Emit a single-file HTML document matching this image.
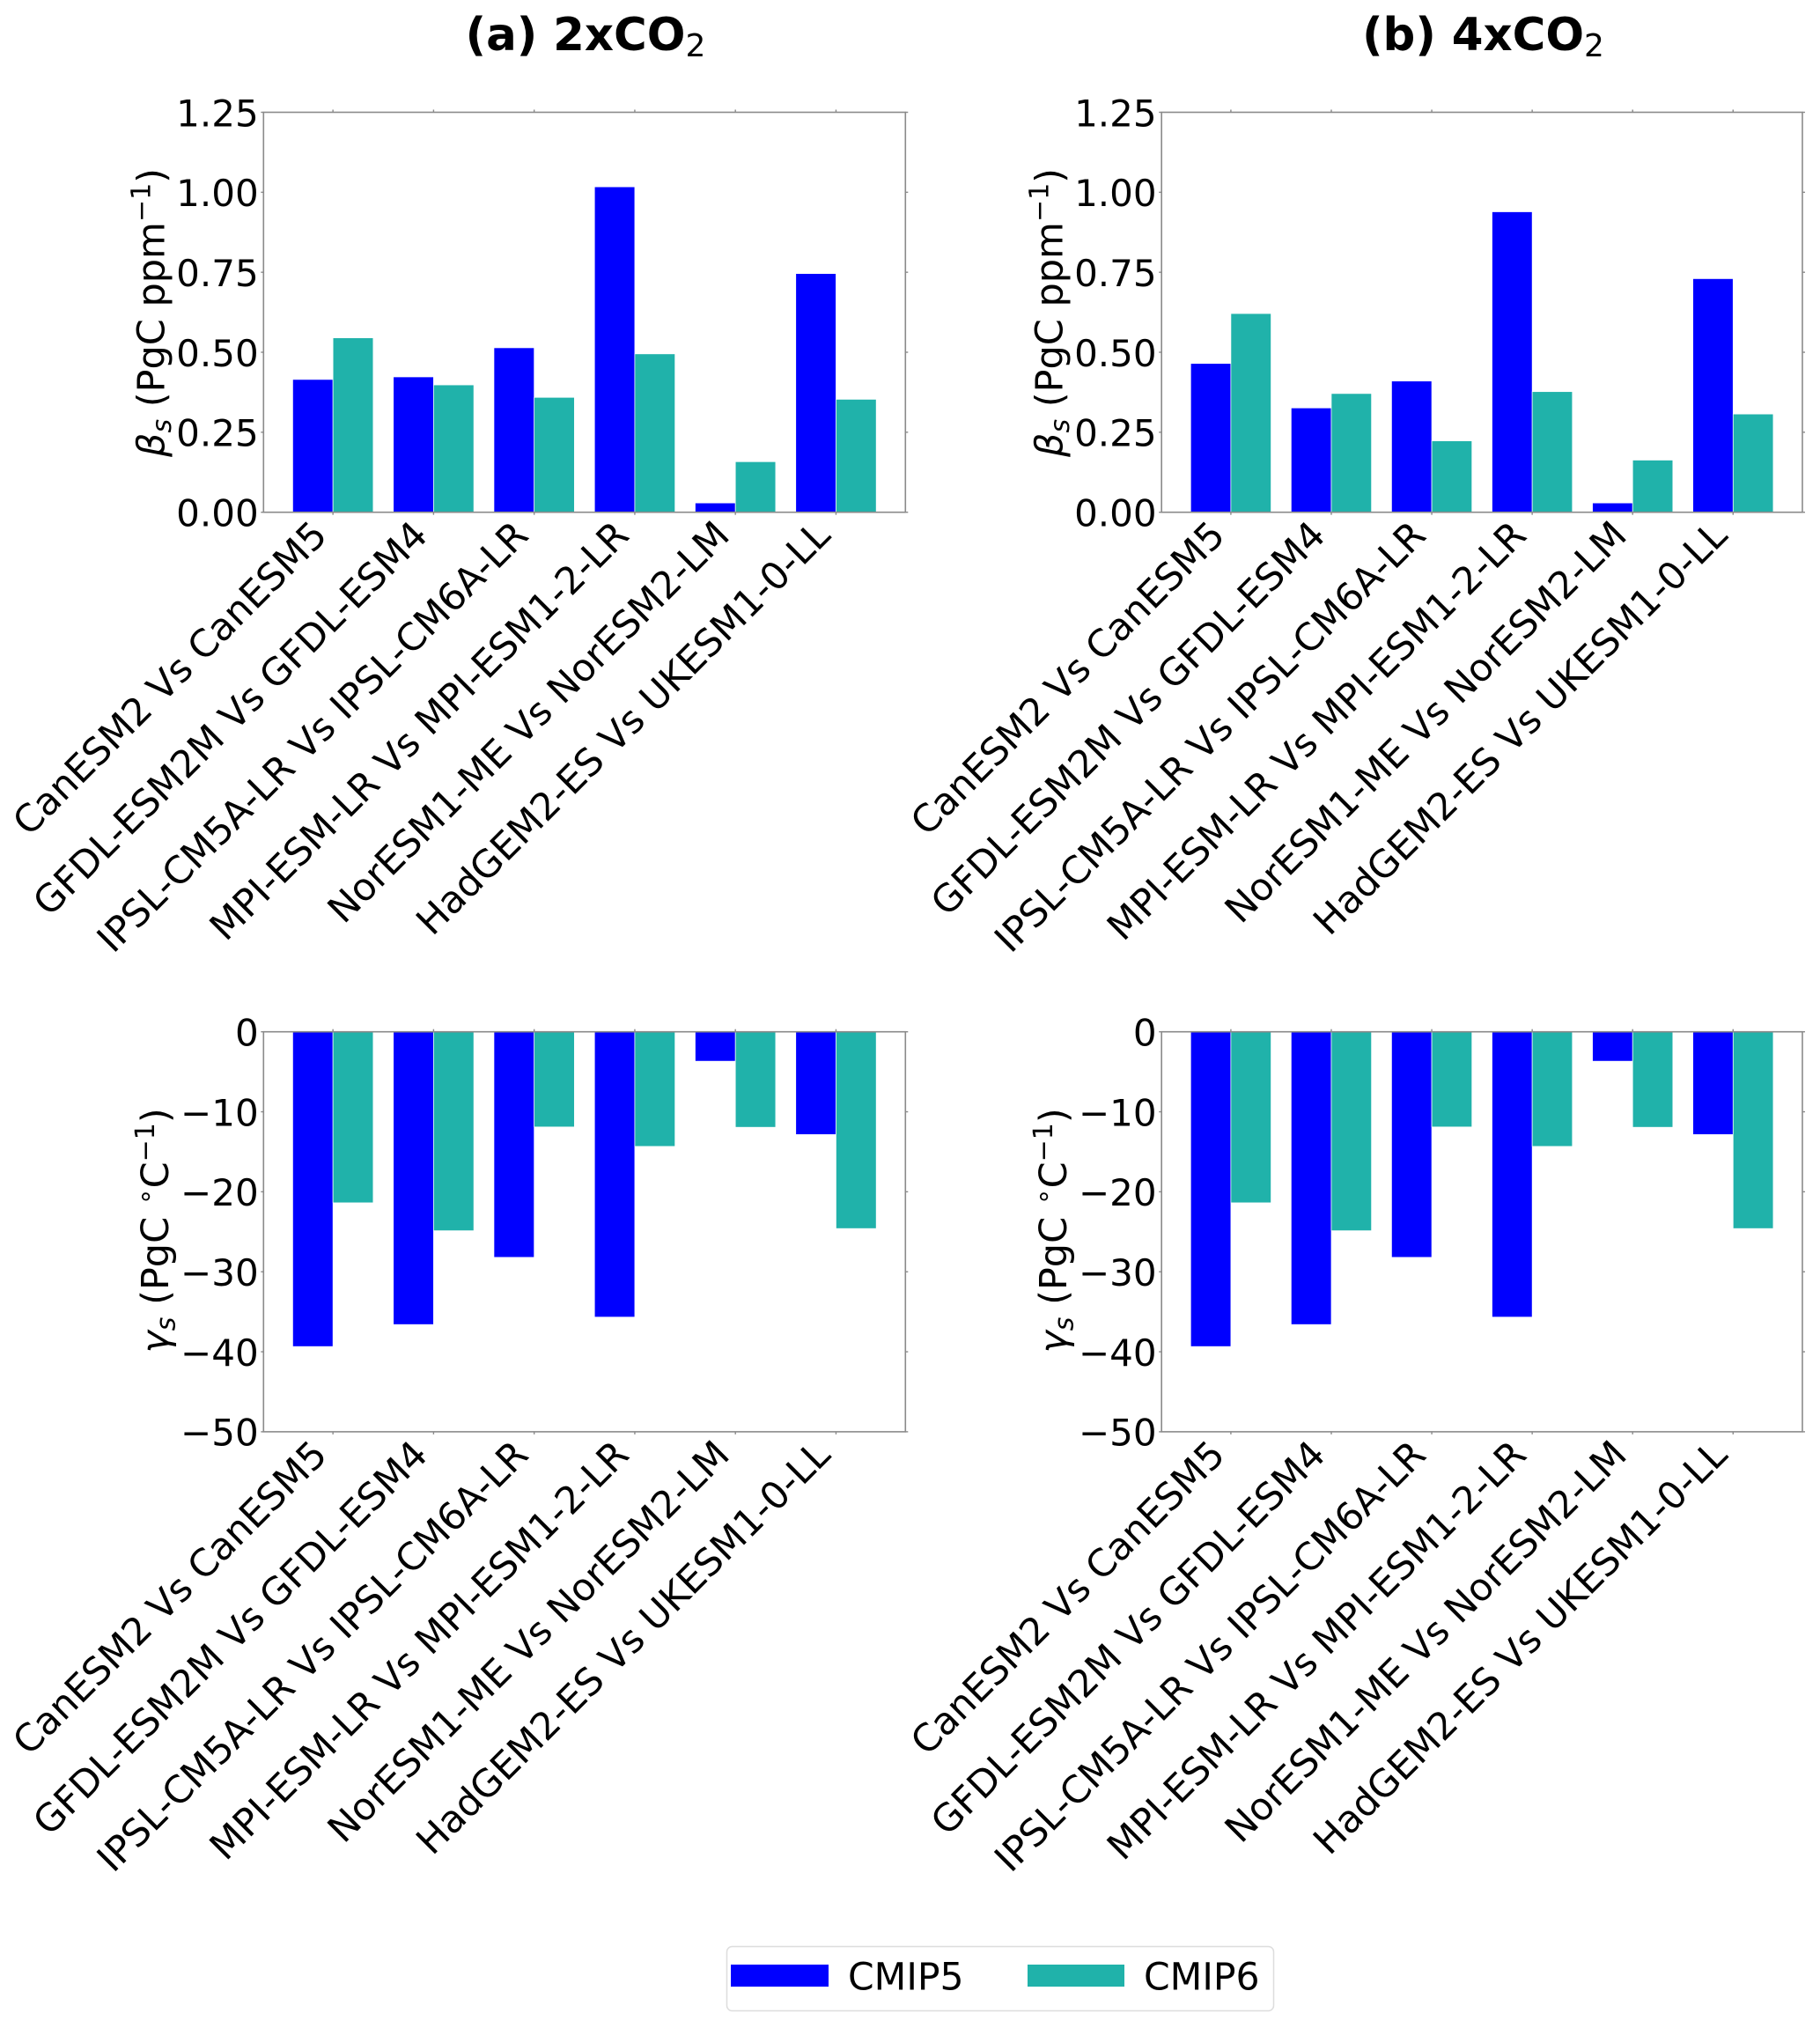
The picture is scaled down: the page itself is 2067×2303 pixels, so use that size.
<!DOCTYPE html>
<html lang="en">
<head>
<meta charset="utf-8">
<title>Beta and gamma sensitivities, CMIP5 vs CMIP6</title>
<style>
html,body{margin:0;padding:0;background:#fff;}
svg{display:block;}
text{font-family:"DejaVu Sans","Liberation Sans",sans-serif;fill:#000;}
</style>
</head>
<body>
<svg id="figure" xmlns="http://www.w3.org/2000/svg" width="2067" height="2303" viewBox="0 0 2067 2303">
  <rect x="0" y="0" width="2067" height="2303" fill="#ffffff"/>
  <text x="665" y="57" text-anchor="middle" font-size="51.4" font-weight="bold">(a) 2xCO<tspan dy="7" font-size="36" font-weight="normal">2</tspan></text>
  <text x="1684.5" y="57" text-anchor="middle" font-size="51.4" font-weight="bold">(b) 4xCO<tspan dy="7" font-size="36" font-weight="normal">2</tspan></text>

  <g>
    <rect x="825.5" y="2210.5" width="621" height="73" rx="6" ry="6" fill="#ffffff" stroke="#dddddd" stroke-width="1.5"/>
    <rect x="830" y="2231" width="111" height="25" fill="#0000ff"/>
    <text x="963" y="2259.3" font-size="42.5">CMIP5</text>
    <rect x="1167" y="2231" width="110" height="25" fill="#20b2aa"/>
    <text x="1299" y="2259.3" font-size="42.5">CMIP6</text>
  </g>
</svg>
<script>
var categories = [
  'CanESM2 Vs CanESM5',
  'GFDL-ESM2M Vs GFDL-ESM4',
  'IPSL-CM5A-LR Vs IPSL-CM6A-LR',
  'MPI-ESM-LR Vs MPI-ESM1-2-LR',
  'NorESM1-ME Vs NorESM2-LM',
  'HadGEM2-ES Vs UKESM1-0-LL'
];
var beta2xCmip5 = [0.415, 0.423, 0.514, 1.017, 0.029, 0.746];
var beta2xCmip6 = [0.545, 0.398, 0.359, 0.495, 0.158, 0.353];
var beta4xCmip5 = [0.465, 0.326, 0.410, 0.939, 0.029, 0.730];
var beta4xCmip6 = [0.621, 0.371, 0.223, 0.377, 0.163, 0.307];
var gamma2xCmip5 = [-39.35, -36.6, -28.2, -35.67, -3.68, -12.85];
var gamma2xCmip6 = [-21.38, -24.87, -11.9, -14.33, -11.94, -24.6];
var gamma4xCmip5 = [-39.35, -36.6, -28.2, -35.67, -3.68, -12.85];
var gamma4xCmip6 = [-21.38, -24.87, -11.9, -14.33, -11.94, -24.6];
var betaTicks = [0, 0.25, 0.5, 0.75, 1, 1.25];
var betaTickLabels = ['0.00', '0.25', '0.50', '0.75', '1.00', '1.25'];
var gammaTicks = [0, -10, -20, -30, -40, -50];
var gammaTickLabels = ['0', '\u221210', '\u221220', '\u221230', '\u221240', '\u221250'];

var SVG_NS = 'http://www.w3.org/2000/svg';
var figure = document.getElementById('figure');
var AXIS_GRAY = '#8a8a8a';
var COLOR_CMIP5 = '#0000ff';
var COLOR_CMIP6 = '#20b2aa';

function svgEl(tag, parent) {
  var el = document.createElementNS(SVG_NS, tag);
  parent.appendChild(el);
  return el;
}

function drawLine(parent, x1, y1, x2, y2, width) {
  var l = svgEl('line', parent);
  l.setAttribute('x1', x1);
  l.setAttribute('y1', y1);
  l.setAttribute('x2', x2);
  l.setAttribute('y2', y2);
  l.setAttribute('stroke', AXIS_GRAY);
  l.setAttribute('stroke-width', width);
  return l;
}

function drawBar(parent, xLeft, barW, yValue, yZero, fill) {
  var r = svgEl('rect', parent);
  r.setAttribute('x', xLeft);
  r.setAttribute('width', barW);
  r.setAttribute('y', Math.min(yValue, yZero));
  r.setAttribute('height', Math.abs(yValue - yZero));
  r.setAttribute('fill', fill);
  r.setAttribute('stroke', '#ffffff');
  r.setAttribute('stroke-width', '0.7');
  return r;
}

function addTspan(parent, str, opts) {
  var t = svgEl('tspan', parent);
  t.textContent = str;
  if (opts.dy) t.setAttribute('dy', opts.dy);
  if (opts.size) t.setAttribute('font-size', opts.size);
  if (opts.italic) t.setAttribute('font-style', 'italic');
  return t;
}

function drawPanel(name, box, yMin, yMax, ticks, tickLabels, cmip5, cmip6, labelKind, labelX, labelY) {
  var left = box[0], right = box[1], top = box[2], bottom = box[3];
  var g = svgEl('g', figure);
  
  

  function xScale(v) { return left + (v + 0.69) / 6.38 * (right - left); }
  function yScale(v) { return bottom - (v - yMin) / (yMax - yMin) * (bottom - top); }

  var barW = xScale(0.4) - xScale(0);
  var barsGroup = svgEl('g', g);
  
  
  categories.forEach(function (cat, i) {
    var slug = cat.split(' ')[0].toLowerCase();
    var b5 = drawBar(barsGroup, xScale(i - 0.4), barW, yScale(cmip5[i]), yScale(0), COLOR_CMIP5);
    
    
    var b6 = drawBar(barsGroup, xScale(i), barW, yScale(cmip6[i]), yScale(0), COLOR_CMIP6);
    
    
  });

  var frame = svgEl('rect', g);
  frame.setAttribute('x', left);
  frame.setAttribute('y', top);
  frame.setAttribute('width', right - left);
  frame.setAttribute('height', bottom - top);
  frame.setAttribute('fill', 'none');
  frame.setAttribute('stroke', AXIS_GRAY);
  frame.setAttribute('stroke-width', '1.6');
  
  

  ticks.forEach(function (v, i) {
    var y = yScale(v);
    var tl = drawLine(g, left - 3, y, left, y, 1.4);
    
    
    var tr = drawLine(g, right, y, right + 3, y, 1.4);
    
    
    var lab = svgEl('text', g);
    lab.setAttribute('x', left - 5.6);
    lab.setAttribute('y', y + 15.8);
    lab.setAttribute('text-anchor', 'end');
    lab.setAttribute('font-size', '42');
    lab.textContent = tickLabels[i];
    
    
  });

  categories.forEach(function (cat, i) {
    var x = xScale(i);
    var tb = drawLine(g, x, bottom, x, bottom + 3, 1.4);
    
    
    var tt = drawLine(g, x, top - 3, x, top, 1.4);
    
    
    var lx = x - 4.5;
    var ly = bottom + 28.5;
    var lab = svgEl('text', g);
    lab.setAttribute('x', lx);
    lab.setAttribute('y', ly);
    lab.setAttribute('text-anchor', 'end');
    lab.setAttribute('font-size', '42.8');
    lab.setAttribute('transform', 'rotate(-45 ' + lx + ' ' + ly + ')');
    lab.textContent = cat;
    
    
  });

  var yl = svgEl('text', g);
  yl.setAttribute('x', labelX);
  yl.setAttribute('y', labelY);
  yl.setAttribute('text-anchor', 'middle');
  yl.setAttribute('font-size', '43');
  yl.setAttribute('xml:space', 'preserve');
  yl.setAttribute('transform', 'rotate(-90 ' + labelX + ' ' + labelY + ')');
  
  
  if (labelKind === 'beta') {
    addTspan(yl, '\u03b2', {italic: true});
    addTspan(yl, 's', {italic: true, size: 30, dy: 7.5});
    addTspan(yl, ' (PgC ppm', {dy: -7.5, size: 43});
    addTspan(yl, '\u22121', {dy: -16, size: 30});
    addTspan(yl, ')', {dy: 16, size: 43});
  } else {
    addTspan(yl, '\u03b3', {italic: true});
    addTspan(yl, 's', {italic: true, size: 30, dy: 7.5});
    addTspan(yl, ' (PgC ', {dy: -7.5, size: 43});
    addTspan(yl, '\u2218', {dy: -16, size: 30});
    addTspan(yl, 'C', {dy: 16, size: 43});
    addTspan(yl, '\u22121', {dy: -16, size: 30});
    addTspan(yl, ')', {dy: 16, size: 43});
  }
}

drawPanel('beta-2xco2', [299.3, 1028.3, 127.5, 581.7], 0, 1.25, betaTicks, betaTickLabels, beta2xCmip5, beta2xCmip6, 'beta', 186.5, 355);
drawPanel('beta-4xco2', [1319.2, 2047, 127.5, 581.7], 0, 1.25, betaTicks, betaTickLabels, beta4xCmip5, beta4xCmip6, 'beta', 1206.5, 355);
drawPanel('gamma-2xco2', [299.3, 1028.3, 1171.7, 1625.9], -50, 0, gammaTicks, gammaTickLabels, gamma2xCmip5, gamma2xCmip6, 'gamma', 191, 1397.5);
drawPanel('gamma-4xco2', [1319.2, 2047, 1171.7, 1625.9], -50, 0, gammaTicks, gammaTickLabels, gamma4xCmip5, gamma4xCmip6, 'gamma', 1211, 1397.5);
</script>
</body>
</html>
